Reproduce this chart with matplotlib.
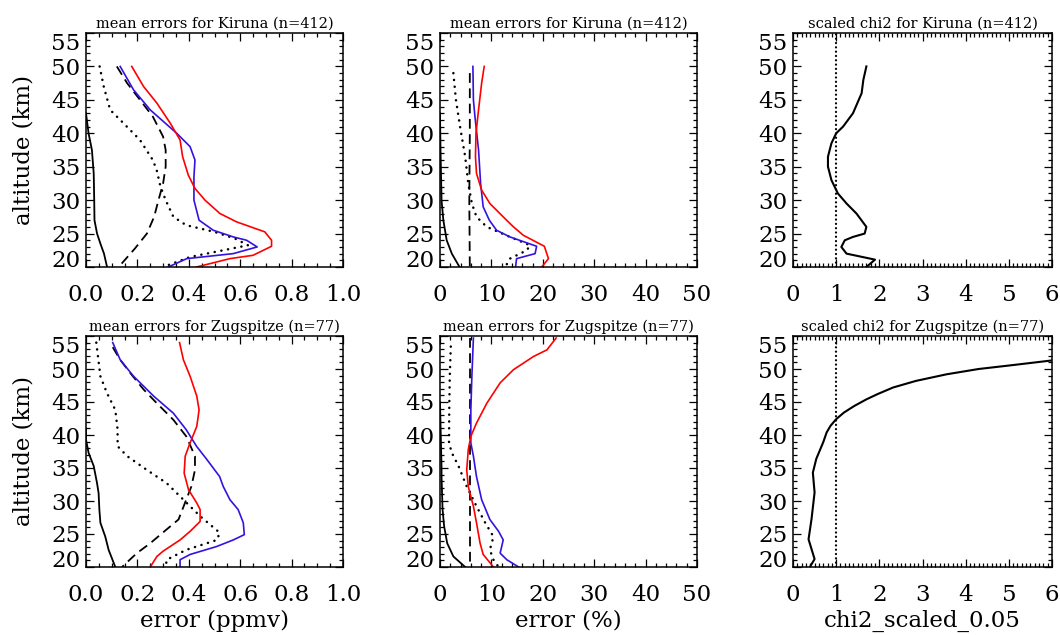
import matplotlib
matplotlib.use("Agg")
import matplotlib.pyplot as plt
from matplotlib.ticker import MultipleLocator, AutoMinorLocator, FixedLocator

plt.rcParams['font.family'] = ['DejaVu Serif']
plt.rcParams['lines.scale_dashes'] = False

# ---------------- data ----------------
# Kiruna, errors in ppmv
ka_solid_alt = [43, 40, 37.5, 34, 30, 27, 25, 23.5, 22, 20]
ka_solid = [0.0, 0.01, 0.023, 0.03, 0.032, 0.033, 0.043, 0.056, 0.07, 0.082]
ka_dash_alt = [50, 47.5, 45, 42.5, 39.5, 37.5, 35, 32.5, 30, 27.5, 25, 22.75, 20]
ka_dash = [0.12, 0.16, 0.21, 0.26, 0.30, 0.31, 0.31, 0.30, 0.282, 0.265, 0.237, 0.19, 0.127]
ka_dot_alt = [50, 47, 43.5, 41.5, 39, 36, 34.5, 32, 30, 27.5, 26.25, 25.25, 24.25, 23.25, 21.5, 20]
ka_dot = [0.053, 0.069, 0.094, 0.146, 0.21, 0.26, 0.275, 0.29, 0.31, 0.34, 0.39, 0.50, 0.58, 0.63, 0.405, 0.30]
ka_blue_alt = [50, 46.5, 43.5, 40, 38, 36, 33.5, 30, 27, 25.5, 24.5, 24, 23, 22, 21.25, 20]
ka_blue = [0.133, 0.185, 0.25, 0.353, 0.405, 0.424, 0.42, 0.42, 0.44, 0.495, 0.573, 0.625, 0.666, 0.573, 0.392, 0.32]
ka_red_alt = [50, 47, 44.5, 41.5, 39, 36.5, 33.75, 31.75, 30, 28, 26.75, 25.25, 24, 23.1, 21.75, 21.25, 20]
ka_red = [0.178, 0.224, 0.276, 0.328, 0.366, 0.376, 0.398, 0.424, 0.463, 0.521, 0.586, 0.696, 0.722, 0.722, 0.65, 0.56, 0.43]

# Kiruna, errors in %
kb_solid_alt = [43, 37.5, 30, 27, 24, 22, 20]
kb_solid = [0.0, 0.1, 0.3, 0.65, 1.3, 2.3, 3.8]
kb_dash_alt = [49, 40, 30, 20]
kb_dash = [5.8, 5.8, 5.7, 5.8]
kb_dot_alt = [49, 45, 41, 36.5, 32.5, 29.5, 27.5, 26, 24.5, 23.25, 22.5, 21.25, 20]
kb_dot = [2.6, 3.1, 3.9, 4.9, 5.5, 6.2, 7.1, 9.1, 13.6, 17.5, 16.9, 13.6, 12.7]
kb_blue_alt = [50, 45, 42.5, 37.5, 32.5, 29, 27, 25.5, 24.5, 23.1, 22, 21.25, 20]
kb_blue = [6.4, 6.5, 6.8, 7.5, 7.9, 8.4, 9.6, 11.0, 13.6, 18.8, 18.5, 14.9, 14.7]
kb_red_alt = [50, 47.5, 43.5, 40, 36.5, 34, 31.5, 29.5, 27.5, 26, 24.75, 23.1, 21.25, 20]
kb_red = [8.6, 8.1, 7.5, 7.0, 6.9, 7.1, 8.1, 9.7, 12.3, 14.3, 16.2, 20.3, 21.1, 19.8]

# Kiruna, scaled chi2
kc_alt = [50, 48, 46, 43, 41, 40, 38.5, 36.5, 35, 33, 31, 29.5, 28, 26, 25, 24.5, 24, 23, 22, 21.1, 20]
kc = [1.70, 1.63, 1.59, 1.39, 1.16, 1.0, 0.89, 0.81, 0.81, 0.89, 1.04, 1.24, 1.47, 1.70, 1.66, 1.39, 1.2, 1.12, 1.24, 1.90, 1.70]

# Zugspitze, errors in ppmv
zd_solid_alt = [41, 39.3, 37.3, 35.3, 32.7, 31.2, 28.7, 26.7, 24.6, 22.6, 20]
zd_solid = [0.0, 0.0, 0.01, 0.03, 0.043, 0.049, 0.052, 0.056, 0.075, 0.088, 0.114]
zd_dash_alt = [53.3, 51.4, 49.4, 46.9, 44.8, 42.3, 39.8, 36.8, 34.7, 32.2, 30.2, 27.2, 25.7, 23.6, 22.1, 20]
zd_dash = [0.104, 0.133, 0.172, 0.224, 0.276, 0.34, 0.39, 0.424, 0.424, 0.41, 0.39, 0.36, 0.314, 0.25, 0.198, 0.14]
zd_dot_alt = [54, 48.9, 46.4, 43.8, 40.8, 38.3, 36.8, 34.7, 32.7, 30.2, 27.7, 25.2, 24.1, 22.6, 21.1, 20]
zd_dot = [0.04, 0.056, 0.081, 0.114, 0.123, 0.123, 0.16, 0.237, 0.314, 0.379, 0.444, 0.52, 0.51, 0.39, 0.314, 0.31]
zd_blue_alt = [54, 51.4, 48.9, 45.9, 43.3, 40.8, 38.3, 36.3, 33.7, 32.2, 30.2, 28.7, 26.7, 24.9, 24.1, 23.1, 21.9, 21.1, 20]
zd_blue = [0.104, 0.133, 0.185, 0.263, 0.34, 0.39, 0.43, 0.47, 0.52, 0.534, 0.56, 0.592, 0.612, 0.616, 0.573, 0.508, 0.405, 0.366, 0.366]
zd_red_alt = [54, 51.4, 48.9, 45.9, 43.8, 41.3, 38.8, 36.8, 34.2, 31.7, 29.7, 28.7, 26.9, 25.4, 24.1, 22.4, 21.6, 20]
zd_red = [0.364, 0.379, 0.405, 0.431, 0.44, 0.431, 0.405, 0.386, 0.382, 0.399, 0.431, 0.444, 0.444, 0.405, 0.366, 0.30, 0.276, 0.25]

# Zugspitze, errors in %
ze_solid_alt = [45, 35, 33.7, 28.7, 26.2, 23.6, 21.6, 20]
ze_solid = [0.0, 0.3, 0.3, 0.5, 0.8, 1.4, 2.6, 4.9]
ze_dash_alt = [54.7, 20]
ze_dash = [5.8, 5.8]
ze_dot_alt = [53.4, 48.9, 43.8, 38.8, 37.3, 35.3, 32.2, 29.2, 26.7, 24.6, 22.6, 21.1, 20]
ze_dot = [2.1, 1.9, 1.8, 1.75, 2.3, 3.6, 5.2, 7.1, 8.8, 10.4, 9.7, 10.4, 11.4]
ze_blue_alt = [54.7, 48.9, 43.8, 38.8, 36.8, 33.7, 30.2, 27.2, 25.4, 24.1, 22.1, 21.1, 20]
ze_blue = [6.5, 6.2, 6.0, 6.0, 6.5, 7.1, 8.1, 9.7, 11.4, 12.3, 11.7, 13.0, 15.3]
ze_red_alt = [54.7, 52.9, 51.9, 49.9, 47.9, 44.8, 41.8, 39.8, 37.8, 34.7, 32.2, 29.2, 26.7, 23.6, 21.9, 20]
ze_red = [22.6, 20.8, 18.2, 14.3, 11.7, 9.1, 7.1, 6.0, 5.5, 5.2, 5.5, 6.5, 7.1, 7.8, 8.4, 10.4]

# Zugspitze, scaled chi2
zf_alt = [20.1, 21.2, 22.7, 24.2, 27.3, 31.3, 34.3, 36.4, 38.9, 40.4, 41.4, 42.4, 43.4, 44.4, 45.4, 46.2, 47.2, 48.2, 49.2, 50.0, 50.6, 51.3, 52]
zf = [0.40, 0.50, 0.43, 0.36, 0.43, 0.50, 0.46, 0.54, 0.70, 0.78, 0.87, 1.0, 1.18, 1.42, 1.70, 1.96, 2.32, 2.85, 3.56, 4.30, 5.1, 6.0, 7.0]

titles = ["mean errors for Kiruna (n=412)", "mean errors for Kiruna (n=412)",
          "scaled chi2 for Kiruna (n=412)", "mean errors for Zugspitze (n=77)",
          "mean errors for Zugspitze (n=77)", "scaled chi2 for Zugspitze (n=77)"]
xlabels = ["error (ppmv)", "error (%)", "chi2_scaled_0.05"]
yticks = [20, 25, 30, 35, 40, 45, 50, 55]

# ---------------- styles ----------------
BLUE = '#3412e0'
RED = '#ff0000'
DASH = (0, (7.0, 4.0))
DOT = (0, (0.1, 4.8))
LW = 1.2

W, H = 1060, 635
fig = plt.figure(figsize=(W / 100, H / 100), dpi=100)

cols = [(86, 343), (440, 697), (793, 1052)]
rows = [(33, 267), (336, 567)]

axes = []
for r, (t, b) in enumerate(rows):
    for c, (l, rr) in enumerate(cols):
        ax = fig.add_axes([l / W, (H - b) / H, (rr - l) / W, (b - t) / H])
        axes.append(ax)


def err_panel(ax, s, sa, d, da, o, oa, bl, bla, rd, rda):
    ax.plot(s, sa, color='black', lw=1.3)
    ax.plot(d, da, color='black', lw=1.3, linestyle=DASH)
    ax.plot(o, oa, color='black', lw=1.8, linestyle=DOT, dash_capstyle='round')
    ax.plot(bl, bla, color=BLUE, lw=LW)
    ax.plot(rd, rda, color=RED, lw=LW)


err_panel(axes[0], ka_solid, ka_solid_alt, ka_dash, ka_dash_alt, ka_dot, ka_dot_alt,
          ka_blue, ka_blue_alt, ka_red, ka_red_alt)
err_panel(axes[1], kb_solid, kb_solid_alt, kb_dash, kb_dash_alt, kb_dot, kb_dot_alt,
          kb_blue, kb_blue_alt, kb_red, kb_red_alt)
axes[2].plot(kc, kc_alt, color='black', lw=1.5)
err_panel(axes[3], zd_solid, zd_solid_alt, zd_dash, zd_dash_alt, zd_dot, zd_dot_alt,
          zd_blue, zd_blue_alt, zd_red, zd_red_alt)
err_panel(axes[4], ze_solid, ze_solid_alt, ze_dash, ze_dash_alt, ze_dot, ze_dot_alt,
          ze_blue, ze_blue_alt, ze_red, ze_red_alt)
axes[5].plot(zf, zf_alt, color='black', lw=1.5)
for ax in (axes[2], axes[5]):
    ax.axvline(1.0, color='black', lw=1.6, linestyle=(0, (0.1, 3.0)), dash_capstyle='round')

xlims = [(0, 1.0), (0, 50), (0, 6)]
xmaj = [0.2, 10, 1]
xminor = [4, 5, 10]
xfmt = ['{:.1f}', '{:.0f}', '{:.0f}']

for i, ax in enumerate(axes):
    c = i % 3
    ax.xaxis.set_major_locator(MultipleLocator(xmaj[c]))
    ax.xaxis.set_minor_locator(AutoMinorLocator(xminor[c]))
    ax.xaxis.set_major_formatter(plt.FuncFormatter(lambda v, p, f=xfmt[c]: f.format(v)))
    ax.yaxis.set_major_locator(FixedLocator(yticks))
    ax.yaxis.set_minor_locator(MultipleLocator(1))
    ax.set_xlim(*xlims[c])
    ax.set_ylim(20, 55)
    ax.tick_params(which='both', direction='in', top=True, right=True, width=0.9)
    ax.tick_params(which='major', length=6, labelsize=16.5)
    ax.tick_params(which='minor', length=3)
    ax.tick_params(axis='x', which='major', pad=12)
    ax.tick_params(axis='y', which='major', pad=4)
    for sp in ax.spines.values():
        sp.set_linewidth(1.1)
    ax.set_title(titles[i], fontsize=10.5, pad=3.5)
    if c == 0:
        ax.set_ylabel('altitude (km)', fontsize=16.5, labelpad=12)
    if i >= 3:
        ax.set_xlabel(xlabels[c], fontsize=16.5, labelpad=3)
    ax.set_ylim(20, 55)

fig.canvas.draw()
for ax in axes:
    yt = ax.yaxis.get_major_ticks()
    yt[0].label1.set_va('baseline')
    yt[-1].label1.set_va('top')

fig.savefig('out.png', dpi=100)
